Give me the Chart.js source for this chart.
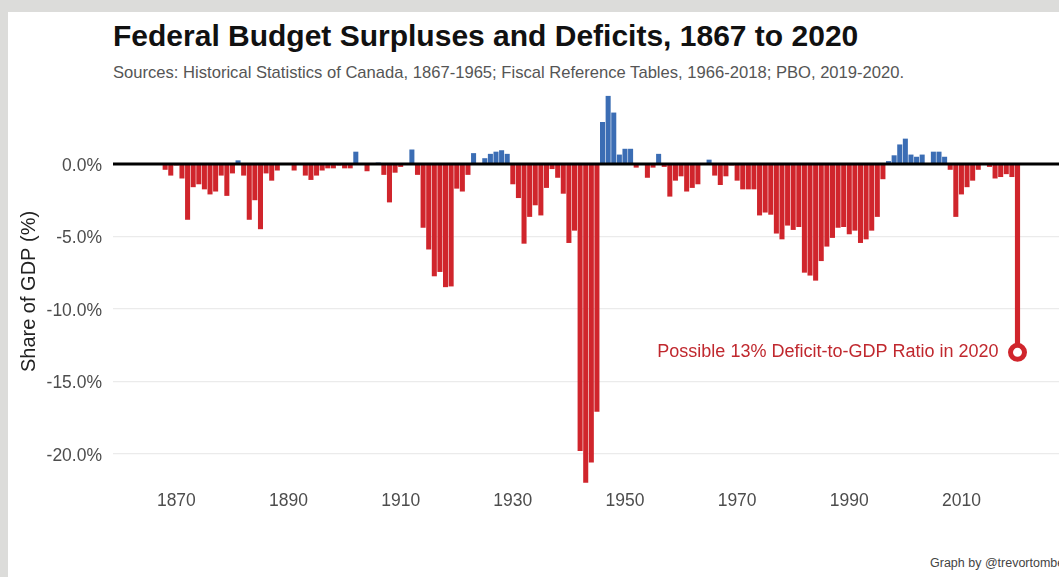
<!DOCTYPE html>
<html>
<head>
<meta charset="utf-8">
<script src="https://cdn.jsdelivr.net/npm/chart.js@4.4.1/dist/chart.umd.min.js"></script>
<style>
  body { margin: 0; width: 1059px; height: 577px; overflow: hidden; position: relative; background: #dcdcda; font-family: "Liberation Sans", Arial, sans-serif; }
  #panel { position: absolute; left: 8px; top: 12px; right: 0; bottom: 0; background: #fff; }
  #title { position: absolute; left: 113px; top: 18px; font-size: 30px; font-weight: bold; color: #111; line-height: 36px; white-space: nowrap; }
  #subtitle { position: absolute; left: 113px; top: 63px; font-size: 16.6px; color: #555; line-height: 20px; white-space: nowrap; }
  #caption { position: absolute; left: 930px; top: 555px; font-size: 12.5px; color: #444; line-height: 16px; white-space: nowrap; }
  #wrap { position: absolute; left: 0; top: 0; width: 1059px; height: 577px; }
</style>
</head>
<body>
<div id="panel"></div>
<div id="title">Federal Budget Surpluses and Deficits, 1867 to 2020</div>
<div id="subtitle">Sources: Historical Statistics of Canada, 1867-1965; Fiscal Reference Tables, 1966-2018; PBO, 2019-2020.</div>
<div id="caption">Graph by @trevortombe</div>
<div id="wrap"><canvas id="chart"></canvas></div>
<script>
// fiscal years shown on the chart, 1868 ... 2020
var firstYear = 1868;
var lastYear = 2020;
var years = [];
for (var yr = firstYear; yr <= lastYear; yr++) years.push(yr);

// budget balance, share of GDP (%)
var balance = [
  -0.4, -0.8, -0.1, -1.0, -3.85, -1.6, -1.4, -1.75, -2.1, -1.9,      // 1868-1877
  -0.8, -2.2, -0.65, 0.25, -0.8, -3.85, -2.5, -4.5, -0.65, -1.15,    // 1878-1887
  -0.45, -0.05, -0.05, -0.45, -0.05, -0.8, -1.1, -0.8, -0.45, -0.3,  // 1888-1897
  -0.3, -0.1, -0.3, -0.3, 0.85, -0.05, -0.5, -0.05, 0.1, -0.75,      // 1898-1907
  -2.65, -0.6, -0.2, -0.05, 1.0, -0.75, -4.4, -5.9, -7.75, -7.45,    // 1908-1917
  -8.5, -8.45, -1.7, -1.9, -0.75, 0.75, -0.05, 0.4, 0.7, 0.85,       // 1918-1927
  0.95, 0.7, -1.4, -2.35, -5.5, -3.65, -2.85, -3.55, -1.65, -0.35,   // 1928-1937
  -0.95, -2.05, -5.45, -4.6, -19.8, -22.0, -20.6, -17.1, 2.9, 4.7,   // 1938-1947
  3.55, 0.65, 1.05, 1.05, -0.25, -0.05, -0.95, -0.25, 0.7, -0.2,     // 1948-1957
  -2.25, -1.15, -0.85, -1.9, -1.65, -1.4, -0.05, 0.3, -0.8, -1.45,   // 1958-1967
  -0.85, -0.1, -1.15, -1.75, -1.75, -1.75, -3.55, -3.35, -3.5, -4.8, // 1968-1977
  -5.2, -4.25, -4.55, -4.35, -7.5, -7.7, -8.05, -6.7, -5.7, -5.1,    // 1978-1987
  -4.4, -4.35, -4.85, -4.6, -5.45, -5.2, -4.6, -3.65, -1.05, 0.2,    // 1988-1997
  0.6, 1.35, 1.75, 0.65, 0.5, 0.65, 0.05, 0.85, 0.85, 0.5,           // 1998-2007
  -0.4, -3.65, -2.1, -1.6, -1.15, -0.4, 0.05, -0.2, -1.0, -0.9,      // 2008-2017
  -0.7, -0.9, -13.0                                                  // 2018-2020
];

var xTicks = [1870, 1890, 1910, 1930, 1950, 1970, 1990, 2010];
var yTicks = [-20, -15, -10, -5, 0];
var noteText = "Possible 13% Deficit-to-GDP Ratio in 2020";

var red = "#d0252c";
var blue = "#3b6db4";
var font = "'Liberation Sans', Arial, sans-serif";

var barData = [];
var barColors = [];
for (var i = 0; i < years.length - 1; i++) {
  barData.push({ x: years[i], y: balance[i] });
  barColors.push(balance[i] >= 0 ? blue : red);
}
var last = { x: years[years.length - 1], y: balance[balance.length - 1] };

// black zero line on top of the bars, and the 2020 label
var overlay = {
  id: "overlay",
  afterDatasetsDraw: function (chart) {
    var ctx = chart.ctx, a = chart.chartArea;
    var xs = chart.scales.x, ys = chart.scales.y;
    var y0 = ys.getPixelForValue(0);
    ctx.save();
    ctx.strokeStyle = "#000";
    ctx.lineWidth = 3;
    ctx.beginPath();
    ctx.moveTo(a.left, y0);
    ctx.lineTo(a.right, y0);
    ctx.stroke();
    var px = xs.getPixelForValue(last.x), py = ys.getPixelForValue(last.y);
    ctx.fillStyle = "#c0282e";
    ctx.font = "18px " + font;
    ctx.textAlign = "right";
    ctx.textBaseline = "middle";
    ctx.fillText(noteText, px - 19, py);
    ctx.restore();
  }
};

new Chart(document.getElementById("chart"), {
  type: "bar",
  data: {
    datasets: [
      {
        data: barData,
        backgroundColor: barColors,
        barPercentage: 0.9,
        categoryPercentage: 1.0,
        grouped: false,
        order: 2
      },
      {
        data: [last],
        backgroundColor: red,
        barThickness: 4.5,
        grouped: false,
        order: 1
      },
      {
        type: "scatter",
        data: [last],
        pointRadius: 7,
        pointBorderWidth: 5,
        pointBackgroundColor: "#fff",
        pointBorderColor: red,
        order: 0
      }
    ]
  },
  options: {
    responsive: true,
    maintainAspectRatio: false,
    animation: false,
    layout: { autoPadding: false, padding: { top: 93, right: 0, bottom: 0, left: 0 } },
    plugins: { legend: { display: false }, tooltip: { enabled: false } },
    scales: {
      x: {
        type: "linear",
        offset: false,
        min: 1858.7,
        max: 2027.4,
        grid: { display: false, drawTicks: false },
        border: { display: false },
        afterBuildTicks: function (s) { s.ticks = xTicks.map(function (v) { return { value: v }; }); },
        afterFit: function (s) { s.height = 87; s.paddingLeft = 0; s.paddingRight = 0; },
        ticks: {
          color: "#4d4d4d",
          font: { family: font, size: 17.5 },
          padding: 1,
          maxRotation: 0,
          callback: function (v) { return String(v); }
        }
      },
      y: {
        min: -22.5,
        max: 4.9,
        border: { display: false },
        grid: {
          drawTicks: false,
          color: function (c) { return c.tick && c.tick.value === 0 ? "rgba(0,0,0,0)" : "#ebebeb"; },
          lineWidth: 1.2
        },
        afterBuildTicks: function (s) { s.ticks = yTicks.map(function (v) { return { value: v }; }); },
        afterFit: function (s) { s.width = 113; },
        ticks: {
          color: "#4d4d4d",
          font: { family: font, size: 17.5 },
          padding: 11,
          labelOffset: 2,
          callback: function (v) { return v.toFixed(1) + "%"; }
        },
        title: {
          display: true,
          text: "Share of GDP (%)",
          color: "#222",
          font: { family: font, size: 20 },
          padding: { top: 17 }
        }
      }
    }
  },
  plugins: [overlay]
});
</script>
</body>
</html>
